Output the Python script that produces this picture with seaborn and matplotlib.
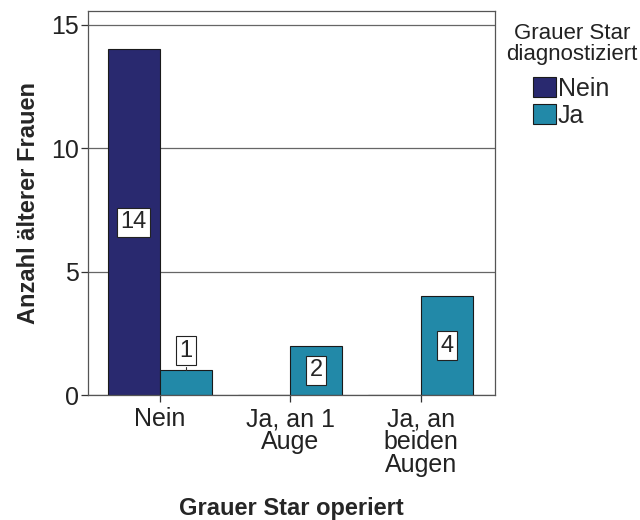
import seaborn as sns
import matplotlib.pyplot as plt
import pandas as pd

# Daten aus der Grafik
operiert = ["Nein", "Ja, an 1\nAuge", "Ja, an\nbeiden\nAugen"]
diagnose = ["Nein", "Ja"]
anzahl_nein = [14, 0, 0]
anzahl_ja = [1, 2, 4]

df = pd.DataFrame({
    "operiert": operiert * 2,
    "diagnose": ["Nein"] * 3 + ["Ja"] * 3,
    "anzahl": anzahl_nein + anzahl_ja,
})

sns.set_theme(style="white")
plt.rcParams["font.family"] = ["Liberation Sans", "DejaVu Sans"]

fig = plt.figure(figsize=(6.4, 5.2), dpi=100)
ax = fig.add_axes([0.1375, 0.240, 0.636, 0.739])

farben = {"Nein": "#29296f", "Ja": "#2289a8"}
ax.set_axisbelow(True)
ax.yaxis.grid(True, color="#666666", linewidth=0.9)

sns.barplot(data=df, x="operiert", y="anzahl", hue="diagnose",
            hue_order=diagnose, order=operiert, palette=farben, saturation=1,
            width=0.8, edgecolor="#1a1a1a", linewidth=0.8, ax=ax)

# Beschriftungen in weissen Kästchen
for cont in ax.containers:
    for bar in cont:
        h = bar.get_height()
        if h <= 0:
            continue
        xc = bar.get_x() + bar.get_width() / 2
        if h < 1.5:
            yt = h + 0.8
            ax.plot([xc, xc], [h, h + 0.15], color="#333333", lw=0.8)
        else:
            yt = h / 2
        ax.text(xc, yt, f"{int(h)}", ha="center", va="center", fontsize=17,
                bbox=dict(boxstyle="square,pad=0.15", fc="white", ec="#222222", lw=0.8))

ax.set_ylim(0, 15.55)
ax.set_xlim(-0.55, 2.57)
ax.set_yticks([0, 5, 10, 15])
ax.tick_params(axis="both", labelsize=18, length=5, width=0.9,
               direction="out", colors="#333333", labelcolor="#222222")
ax.tick_params(axis="y", pad=1.5)
ax.tick_params(axis="both", bottom=True, left=True)
for t in ax.get_xticklabels():
    t.set_linespacing(0.95)

for s in ax.spines.values():
    s.set_color("#555555")
    s.set_linewidth(0.9)

ax.set_ylabel("Anzahl älterer Frauen", fontsize=17, fontweight="bold", labelpad=8)
ax.set_xlabel("Grauer Star operiert", fontsize=17, fontweight="bold", labelpad=14)

# Legende: Titel separat, damit der Abstand passt
fig.text(572 / 640, 1 - 44 / 520, "Grauer Star\ndiagnostiziert", ha="center",
         va="center", fontsize=16, linespacing=1.0, color="#222222")
leg = ax.legend(loc="upper left", bbox_to_anchor=(528 / 640, 1 - 72 / 520),
                bbox_transform=fig.transFigure, frameon=False, fontsize=18,
                handlelength=0.9, handleheight=0.85, handletextpad=0.1,
                labelspacing=0.12, borderaxespad=0, borderpad=0.2)

fig.savefig("out.png", dpi=100)
